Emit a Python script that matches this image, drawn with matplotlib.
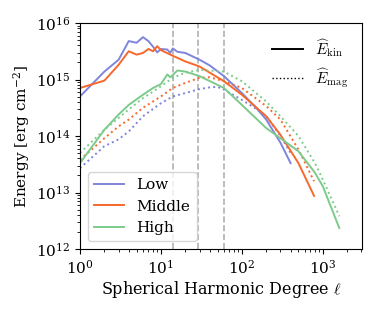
import numpy as np
import matplotlib
matplotlib.use("Agg")
import matplotlib.pyplot as plt
from matplotlib.lines import Line2D

plt.rcParams['font.family'] = 'DejaVu Serif'
plt.rcParams['mathtext.fontset'] = 'dejavuserif'

# degree l and log10 energy
l_low = [1, 2, 3, 4, 5, 6, 7, 8, 9, 10, 12, 13, 14, 16, 20, 30, 40, 60, 100, 150, 200, 300, 400]
low_kin = [14.70, 15.14, 15.35, 15.68, 15.65, 15.75, 15.68, 15.58, 15.48, 15.54, 15.53, 15.47, 15.55, 15.49, 15.47, 15.35, 15.25, 15.06, 14.76, 14.50, 14.29, 13.88, 13.52]
l_low_m = [1, 2, 3, 4, 6, 10, 14, 20, 30, 40, 50, 60, 100, 150, 200, 300, 400]
low_mag = [13.43, 13.82, 13.94, 14.08, 14.35, 14.58, 14.70, 14.76, 14.83, 14.86, 14.87, 14.82, 14.64, 14.48, 14.35, 14.00, 13.70]

l_mid = [1, 2, 3, 4, 5, 6, 7, 8, 9, 10, 14, 20, 30, 60, 100, 200, 300, 500, 780]
mid_kin = [14.85, 14.98, 15.26, 15.50, 15.44, 15.47, 15.54, 15.50, 15.59, 15.52, 15.42, 15.32, 15.23, 14.97, 14.73, 14.35, 14.02, 13.52, 12.94]
l_mid_m = [1, 2, 3, 4, 6, 10, 14, 20, 30, 40, 60, 100, 200, 300, 500, 780]
mid_mag = [13.58, 13.96, 14.17, 14.29, 14.50, 14.70, 14.85, 14.94, 15.03, 15.04, 14.97, 14.85, 14.53, 14.29, 13.76, 13.20]

l_high = [1, 2, 3, 4, 6, 8, 10, 12, 13, 14, 16, 20, 30, 60, 100, 200, 300, 500, 800, 1000, 1600]
high_kin = [13.52, 14.11, 14.38, 14.55, 14.73, 14.85, 14.92, 15.09, 15.04, 15.08, 15.16, 15.14, 15.06, 14.85, 14.55, 14.14, 13.96, 13.73, 13.35, 13.11, 12.37]
l_high_m = [1, 2, 3, 4, 6, 10, 14, 20, 30, 60, 100, 200, 300, 500, 800, 1000, 1600]
high_mag = [13.70, 14.11, 14.32, 14.47, 14.67, 14.88, 15.03, 15.12, 15.17, 15.14, 14.97, 14.61, 14.35, 14.00, 13.52, 13.23, 12.58]

vlines = [14, 29, 60]
names = ['Low', 'Middle', 'High']
colors = ['#7f84dc', '#f8682c', '#7ccb8c']

fig = plt.figure(figsize=(3.82, 3.12), dpi=100)
ax = fig.add_axes([80/382, 1-249/312, 282/382, 226/312])

runs = [(l_low, low_kin, l_low_m, low_mag),
        (l_mid, mid_kin, l_mid_m, mid_mag),
        (l_high, high_kin, l_high_m, high_mag)]
handles = []
for (lk, ek, lm, em), c, n in zip(runs, colors, names):
    h, = ax.plot(lk, 10**np.array(ek), color=c, lw=1.4, label=n)
    ax.plot(lm, 10**np.array(em), color=c, lw=1.4, ls=':')
    handles.append(h)

for v in vlines:
    ax.axvline(v, color='#b0b0b0', ls='--', lw=1.2, zorder=0)

ax.set_xscale('log')
ax.set_yscale('log')
ax.set_xlim(1, 3050)
ax.set_ylim(1e12, 1e16)
ax.set_xlabel(r'Spherical Harmonic Degree $\ell$', fontsize=11.5, labelpad=2)
ax.set_ylabel(r'Energy [erg cm$^{-2}$]', fontsize=11, labelpad=3)
ax.tick_params(labelsize=11)
for t in [ax.xaxis.label]:
    t.set_math_fontfamily('cm')

leg1 = ax.legend(handles=handles, loc='lower left', fontsize=11, framealpha=0.8)
ax.add_artist(leg1)
h2 = [Line2D([], [], color='k', lw=1.4), Line2D([], [], color='k', lw=1.0, ls=':')]
leg2 = ax.legend(h2, [r'$\widehat{E}_{\rm kin}$', r'$\widehat{E}_{\rm mag}$'], loc='upper right',
                 frameon=False, fontsize=11)
for t in leg2.get_texts():
    t.set_math_fontfamily('cm')

fig.savefig('out.png', dpi=100)
